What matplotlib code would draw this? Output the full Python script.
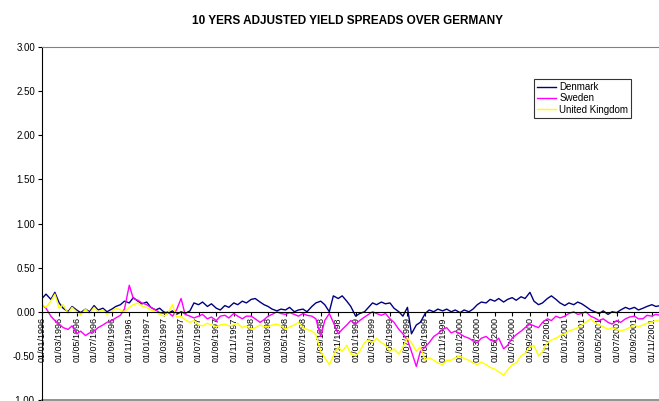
import numpy as np
import pandas as pd
import matplotlib
matplotlib.use("Agg")
import matplotlib.pyplot as plt
import matplotlib.dates as mdates

# Semi-monthly readings (1st and 15th) from 01/01/1996 to 01/12/2001
fechas = pd.date_range("1996-01-01", "2001-12-01", freq="SMS")

denmark = [
    # 1996
    0.15, 0.20, 0.14, 0.22, 0.10, 0.04, 0.00, 0.06, 0.02, -0.01, 0.03, 0.00,
    0.07, 0.02, 0.04, 0.00, 0.03, 0.06, 0.08, 0.12, 0.10, 0.16, 0.12, 0.09,
    # 1997
    0.11, 0.05, 0.02, 0.04, 0.00, -0.02, 0.01, -0.03, 0.00, -0.02, 0.01, 0.10,
    0.08, 0.11, 0.06, 0.09, 0.04, 0.02, 0.07, 0.05, 0.10, 0.08, 0.12, 0.10,
    # 1998
    0.14, 0.15, 0.11, 0.08, 0.06, 0.03, 0.01, 0.03, 0.02, 0.05, 0.00, 0.02,
    0.03, 0.00, 0.06, 0.10, 0.12, 0.08, 0.00, 0.18, 0.15, 0.18, 0.12, 0.06,
    # 1999
    -0.05, -0.02, 0.00, 0.05, 0.10, 0.08, 0.11, 0.09, 0.10, 0.04, 0.00, -0.05,
    0.05, -0.25, -0.15, -0.12, -0.02, 0.02, 0.00, 0.03, 0.01, 0.03, 0.00, 0.02,
    # 2000
    -0.01, 0.02, 0.00, 0.03, 0.08, 0.11, 0.10, 0.14, 0.12, 0.15, 0.11, 0.14,
    0.16, 0.13, 0.17, 0.15, 0.22, 0.12, 0.08, 0.10, 0.15, 0.18, 0.14, 0.10,
    # 2001
    0.07, 0.10, 0.08, 0.11, 0.09, 0.06, 0.02, 0.00, -0.02, 0.01, -0.03, 0.00,
    -0.01, 0.02, 0.05, 0.03, 0.05, 0.02, 0.04, 0.06, 0.08, 0.06, 0.07,
]

sweden = [
    # 1996
    0.08, 0.04, -0.05, -0.10, -0.14, -0.18, -0.20, -0.16, -0.25, -0.22, -0.27, -0.24,
    -0.22, -0.18, -0.15, -0.12, -0.10, -0.07, -0.04, 0.03, 0.30, 0.15, 0.13, 0.10,
    # 1997
    0.08, 0.05, 0.02, -0.01, -0.02, 0.00, -0.05, 0.02, 0.15, -0.03, -0.05, -0.07,
    -0.05, -0.03, -0.08, -0.06, -0.10, -0.05, -0.04, -0.07, -0.02, -0.05, -0.08, -0.05,
    # 1998
    -0.05, -0.08, -0.12, -0.09, -0.05, -0.03, 0.00, -0.02, -0.03, -0.01, -0.03, -0.05,
    -0.02, -0.04, -0.05, -0.08, -0.28, -0.10, -0.02, -0.12, -0.25, -0.20, -0.15, -0.10,
    # 1999
    -0.14, -0.10, -0.06, -0.03, 0.00, -0.02, -0.04, -0.02, -0.08, -0.12, -0.20, -0.25,
    -0.32, -0.45, -0.62, -0.45, -0.40, -0.35, -0.28, -0.25, -0.20, -0.18, -0.24, -0.22,
    # 2000
    -0.25, -0.28, -0.30, -0.33, -0.35, -0.30, -0.28, -0.32, -0.34, -0.30, -0.42, -0.38,
    -0.30, -0.26, -0.22, -0.18, -0.14, -0.16, -0.18, -0.12, -0.08, -0.10, -0.05, -0.07,
    # 2001
    -0.05, -0.02, 0.00, -0.03, -0.02, 0.00, -0.05, -0.07, -0.10, -0.08, -0.12, -0.14,
    -0.10, -0.12, -0.08, -0.06, -0.05, -0.08, -0.08, -0.04, -0.05, -0.03, -0.04,
]

reino_unido = [
    # 1996
    0.08, 0.05, 0.12, 0.20, 0.04, 0.08, -0.02, 0.05, 0.00, -0.04, 0.03, -0.02,
    0.05, 0.00, 0.02, -0.03, 0.00, 0.04, 0.02, 0.00, 0.05, 0.08, 0.10, 0.06,
    # 1997
    0.05, 0.02, 0.00, -0.03, -0.05, -0.02, 0.08, -0.06, -0.05, -0.09, -0.12, -0.10,
    -0.15, -0.16, -0.13, -0.15, -0.17, -0.15, -0.14, -0.16, -0.15, -0.13, -0.18, -0.16,
    # 1998
    -0.20, -0.18, -0.15, -0.17, -0.17, -0.15, -0.14, -0.16, -0.20, -0.17, -0.15, -0.12,
    -0.18, -0.20, -0.22, -0.26, -0.45, -0.52, -0.60, -0.50, -0.40, -0.45, -0.38, -0.48,
    # 1999
    -0.50, -0.45, -0.35, -0.32, -0.35, -0.30, -0.35, -0.38, -0.45, -0.42, -0.48, -0.40,
    -0.30, -0.35, -0.45, -0.40, -0.55, -0.52, -0.55, -0.58, -0.60, -0.55, -0.55, -0.52,
    # 2000
    -0.50, -0.53, -0.55, -0.58, -0.60, -0.57, -0.60, -0.63, -0.65, -0.68, -0.72, -0.66,
    -0.60, -0.58, -0.50, -0.47, -0.40, -0.38, -0.50, -0.45, -0.35, -0.32, -0.30, -0.27,
    # 2001
    -0.25, -0.22, -0.20, -0.18, -0.15, -0.12, -0.08, -0.12, -0.15, -0.17, -0.20, -0.18,
    -0.20, -0.22, -0.20, -0.18, -0.15, -0.17, -0.15, -0.13, -0.12, -0.10, -0.11,
]

series = [("Denmark", denmark, "#000080"),
          ("Sweden", sweden, "#FF00FF"),
          ("United Kingdom", reino_unido, "#FFFF00")]

W, H = 659, 401
fig = plt.figure(figsize=(W / 100, H / 100), dpi=100)
ax = fig.add_axes([42 / W, 1 / H, (W - 42) / W, 353 / H])

for nombre, valores, color in series:
    ax.plot(fechas, valores, color=color, lw=1.0, label=nombre)

ax.set_ylim(-1.0, 3.0)
ax.set_xlim(pd.Timestamp("1996-01-01"), pd.Timestamp("2001-11-26"))
ax.set_yticks(np.arange(-1.0, 3.01, 0.5))
ax.yaxis.set_major_formatter(plt.FormatStrFormatter("%.2f"))
ax.tick_params(axis="y", direction="out", length=3, width=0.8, labelsize=7, pad=2)

# Category axis crosses at zero
ax.spines["bottom"].set_position(("data", 0))
ax.spines["bottom"].set_color("black")
ax.spines["left"].set_color("black")
ax.spines["top"].set_color("#808080")
ax.spines["right"].set_visible(False)
ax.plot([0, 1], [0, 0], transform=ax.transAxes, color="#808080", lw=1.2, clip_on=False)

ax.xaxis.set_major_locator(mdates.MonthLocator(bymonth=[1, 3, 5, 7, 9, 11]))
ax.xaxis.set_major_formatter(mdates.DateFormatter("%d/%m/%Y"))
ax.tick_params(axis="x", direction="out", length=3, width=0.8, labelsize=6.5, pad=1)
for t in ax.get_xticklabels():
    t.set_rotation(90)

fig.text(347 / W, 1 - 21 / H, "10 YERS ADJUSTED YIELD SPREADS OVER GERMANY",
         ha="center", va="center", fontsize=8.5, fontweight="bold",
         family="Liberation Sans")

leg = ax.legend(loc="upper left", bbox_to_anchor=(534 / W, 1 - 79 / H),
                bbox_transform=fig.transFigure, fontsize=7, frameon=True,
                fancybox=False, borderpad=0.3, labelspacing=0.15,
                handlelength=2.0, handletextpad=0.3, borderaxespad=0)
leg.get_frame().set_edgecolor("black")
leg.get_frame().set_linewidth(0.8)

for t in ax.get_xticklabels() + ax.get_yticklabels() + leg.get_texts():
    t.set_family("Liberation Sans")

fig.savefig("out.png", dpi=100)
